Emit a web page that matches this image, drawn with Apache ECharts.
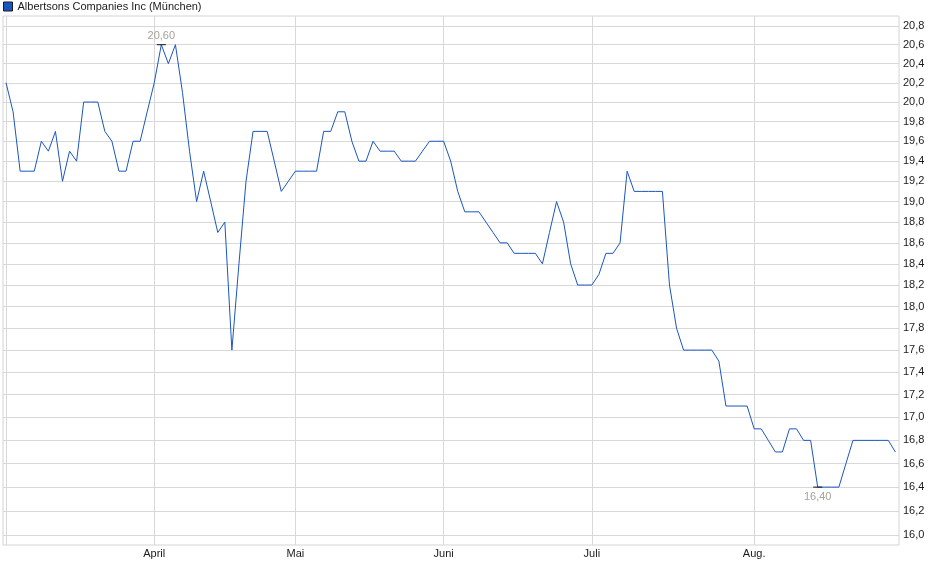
<!DOCTYPE html>
<html>
<head>
<meta charset="utf-8">
<script src="https://cdn.jsdelivr.net/npm/echarts@6/dist/echarts.min.js"></script>
<style>
  html, body { margin: 0; padding: 0; background: #fff; }
  #chart { width: 940px; height: 579px; }
</style>
</head>
<body>
<div id="chart"></div>
<script>
// daily closing prices (EUR), one per trading day, March to end of August
const prices = [
  20.2, 19.9, 19.3, 19.3, 19.3, 19.6, 19.5, 19.7, 19.2, 19.5,
  19.4, 20.0, 20.0, 20.0, 19.7, 19.6, 19.3, 19.3, 19.6, 19.6,
  19.9, 20.2, 20.6, 20.4, 20.6, 20.1, 19.5, 19.0, 19.3, 19.0,
  18.7, 18.8, 17.6, 18.4, 19.2, 19.7, 19.7, 19.7, 19.4, 19.1,
  19.2, 19.3, 19.3, 19.3, 19.3, 19.7, 19.7, 19.9, 19.9, 19.6,
  19.4, 19.4, 19.6, 19.5, 19.5, 19.5, 19.4, 19.4, 19.4, 19.5,
  19.6, 19.6, 19.6, 19.4, 19.1, 18.9, 18.9, 18.9, 18.8, 18.7,
  18.6, 18.6, 18.5, 18.5, 18.5, 18.5, 18.4, 18.7, 19.0, 18.8,
  18.4, 18.2, 18.2, 18.2, 18.3, 18.5, 18.5, 18.6, 19.3, 19.1,
  19.1, 19.1, 19.1, 19.1, 18.2, 17.8, 17.6, 17.6, 17.6, 17.6,
  17.6, 17.5, 17.1, 17.1, 17.1, 17.1, 16.9, 16.9, 16.8, 16.7,
  16.7, 16.9, 16.9, 16.8, 16.8, 16.4, 16.4, 16.4, 16.4, 16.6,
  16.8, 16.8, 16.8, 16.8, 16.8, 16.8, 16.7
];

// trading-day index where each month starts, and its label
const monthStarts = [0, 21, 41, 62, 83, 106];
const monthLabels = ['', 'April', 'Mai', 'Juni', 'Juli', 'Aug.'];

const yTicks = [16.0, 16.2, 16.4, 16.6, 16.8, 17.0, 17.2, 17.4, 17.6, 17.8, 18.0, 18.2,
  18.4, 18.6, 18.8, 19.0, 19.2, 19.4, 19.6, 19.8, 20.0, 20.2, 20.4, 20.6, 20.8];

const seriesName = 'Albertsons Companies Inc (München)';
const FONT = 'Liberation Sans, Arial, sans-serif';

const chart = echarts.init(document.getElementById('chart'), null, { renderer: 'canvas' });

const comma = (v, d) => v.toFixed(d).replace('.', ',');

chart.setOption({
  animation: false,
  textStyle: { fontFamily: FONT },
  legend: {
    left: 0,
    top: 0,
    padding: [1, 0, 0, 3],
    icon: 'rect',
    itemWidth: 9,
    itemHeight: 9,
    itemStyle: { borderColor: '#1a1a1a', borderWidth: 1 },
    textStyle: { fontSize: 11, color: '#1a1a1a', fontFamily: FONT },
    data: [seriesName]
  },
  grid: {
    left: 3,
    right: 41,
    top: 16,
    bottom: 34,
    show: true,
    borderColor: '#d4d4d4',
    borderWidth: 1
  },
  xAxis: {
    type: 'value',
    min: -0.43,
    max: 126.52,
    axisLine: { show: false },
    axisTick: { show: false, customValues: monthStarts },
    axisLabel: {
      customValues: monthStarts.slice(1),
      formatter: v => monthLabels[monthStarts.indexOf(v)],
      fontSize: 11,
      color: '#1a1a1a',
      margin: 3
    },
    splitLine: { show: true, lineStyle: { color: '#d8d8d8', width: 1 } }
  },
  yAxis: {
    type: 'log',
    position: 'right',
    min: 15.918,
    max: 20.907,
    axisLine: { show: false },
    axisTick: { show: false, customValues: yTicks },
    axisLabel: {
      customValues: yTicks,
      formatter: v => comma(v, 1),
      fontSize: 11,
      color: '#1a1a1a',
      margin: 4
    },
    splitLine: { show: true, lineStyle: { color: '#d8d8d8', width: 1 } }
  },
  series: [{
    name: seriesName,
    type: 'line',
    data: prices.map((p, i) => [i, p]),
    showSymbol: false,
    symbol: 'none',
    color: '#1a56c0',
    lineStyle: { width: 1, color: '#1a56c0' },
    markPoint: {
      symbol: 'rect',
      symbolSize: [9, 1],
      itemStyle: { color: '#111' },
      label: {
        fontSize: 11,
        color: '#a8a298',
        fontFamily: FONT,
        formatter: p => comma(p.value, 2)
      },
      data: [
        { type: 'max', label: { position: 'top', distance: 3 } },
        { type: 'min', label: { position: 'bottom', distance: 4 } }
      ]
    }
  }]
});
</script>
</body>
</html>
